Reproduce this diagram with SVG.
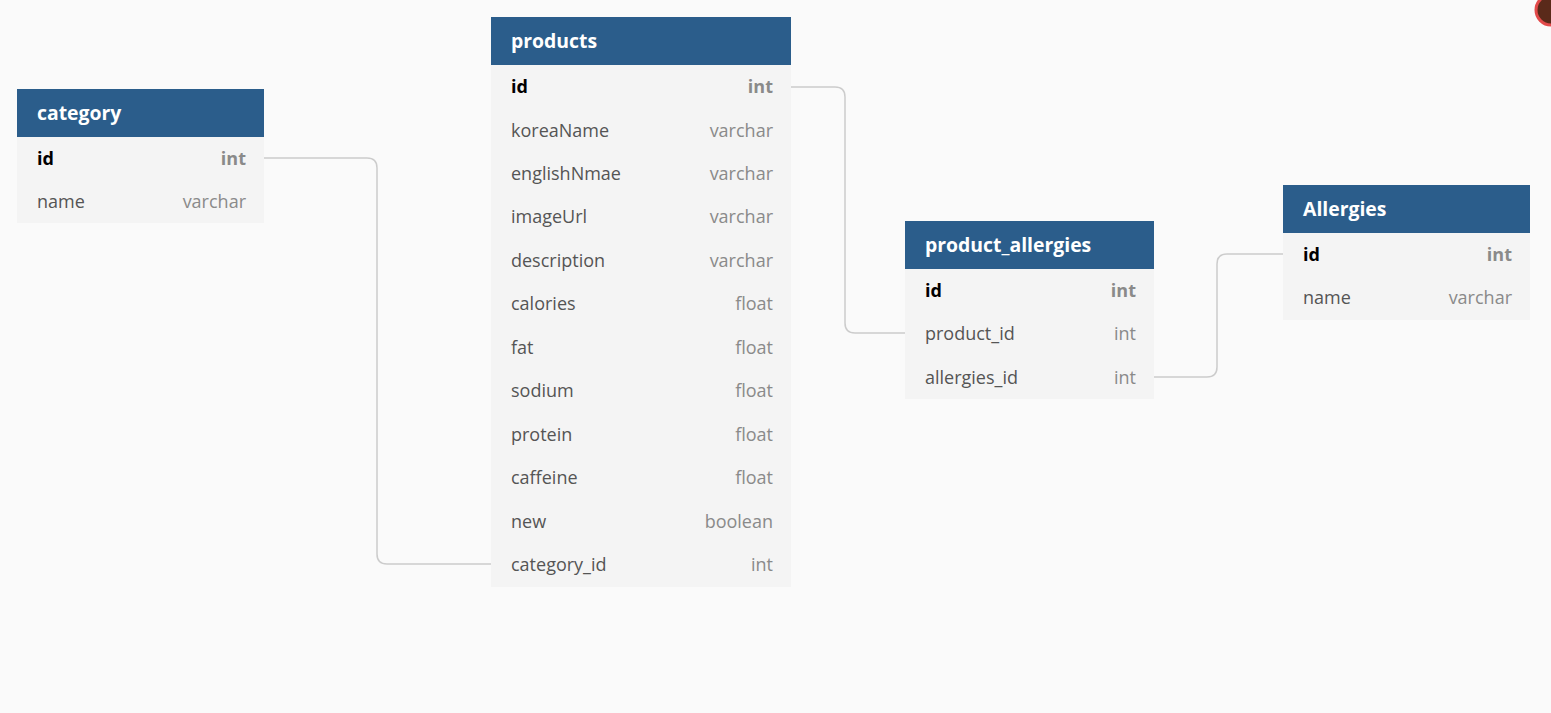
<svg xmlns="http://www.w3.org/2000/svg" width="1551" height="713" viewBox="0 0 1551 713">
<style>
.hdr{fill:#2b5d8b}
.body{fill:#f4f4f4}
.ht{font-family:"Open Sans",sans-serif;font-weight:700;font-size:19.4px;fill:#ffffff}
.fn{font-family:"Open Sans",sans-serif;font-size:18px;fill:#555555}
.ft{font-family:"Open Sans",sans-serif;font-size:18px;fill:#8a8a8a;text-anchor:end}
.pk{font-weight:700;fill:#000000}
.pkt{font-weight:700;fill:#8a8a8a}
.conn{fill:none;stroke:#cccccc;stroke-width:1.5}
</style>
<rect width="1551" height="713" fill="#fafafa"/>
<g id="connectors">
<path class="conn" d="M264,158 H367 Q377,158 377,168 V554 Q377,564 387,564 H491"/>
<path class="conn" d="M791,87 H835 Q845,87 845,97 V323 Q845,333 855,333 H905"/>
<path class="conn" d="M1154,377 H1207 Q1217,377 1217,367 V264 Q1217,254 1227,254 H1283"/>
</g>
<g id="category">
<rect class="body" x="17" y="137" width="247" height="86"/>
<rect class="hdr" x="17" y="89" width="247" height="48"/>
<text class="ht" x="37" y="120">category</text>
<text class="fn pk" x="37" y="165">id</text><text class="ft pkt" x="246" y="165">int</text>
<text class="fn" x="37" y="208">name</text><text class="ft" x="246" y="208">varchar</text>
</g>
<g id="products">
<rect class="body" x="491" y="65" width="300" height="522"/>
<rect class="hdr" x="491" y="17" width="300" height="48"/>
<text class="ht" x="511" y="48">products</text>
<text class="fn pk" x="511" y="93">id</text><text class="ft pkt" x="773" y="93">int</text>
<text class="fn" x="511" y="137">koreaName</text><text class="ft" x="773" y="137">varchar</text>
<text class="fn" x="511" y="180">englishNmae</text><text class="ft" x="773" y="180">varchar</text>
<text class="fn" x="511" y="223">imageUrl</text><text class="ft" x="773" y="223">varchar</text>
<text class="fn" x="511" y="267">description</text><text class="ft" x="773" y="267">varchar</text>
<text class="fn" x="511" y="310">calories</text><text class="ft" x="773" y="310">float</text>
<text class="fn" x="511" y="354">fat</text><text class="ft" x="773" y="354">float</text>
<text class="fn" x="511" y="397">sodium</text><text class="ft" x="773" y="397">float</text>
<text class="fn" x="511" y="441">protein</text><text class="ft" x="773" y="441">float</text>
<text class="fn" x="511" y="484">caffeine</text><text class="ft" x="773" y="484">float</text>
<text class="fn" x="511" y="528">new</text><text class="ft" x="773" y="528">boolean</text>
<text class="fn" x="511" y="571">category_id</text><text class="ft" x="773" y="571">int</text>
</g>
<g id="product_allergies">
<rect class="body" x="905" y="269" width="249" height="130"/>
<rect class="hdr" x="905" y="221" width="249" height="48"/>
<text class="ht" x="925" y="252">product_allergies</text>
<text class="fn pk" x="925" y="297">id</text><text class="ft pkt" x="1136" y="297">int</text>
<text class="fn" x="925" y="340">product_id</text><text class="ft" x="1136" y="340">int</text>
<text class="fn" x="925" y="384">allergies_id</text><text class="ft" x="1136" y="384">int</text>
</g>
<g id="Allergies">
<rect class="body" x="1283" y="233" width="247" height="87"/>
<rect class="hdr" x="1283" y="185" width="247" height="48"/>
<text class="ht" x="1303" y="216">Allergies</text>
<text class="fn pk" x="1303" y="261">id</text><text class="ft pkt" x="1512" y="261">int</text>
<text class="fn" x="1303" y="304">name</text><text class="ft" x="1512" y="304">varchar</text>
</g>
<g id="avatar">
<circle cx="1551" cy="10" r="15" fill="#5a2a1a" stroke="#e24a4a" stroke-width="3"/>
</g>
</svg>
